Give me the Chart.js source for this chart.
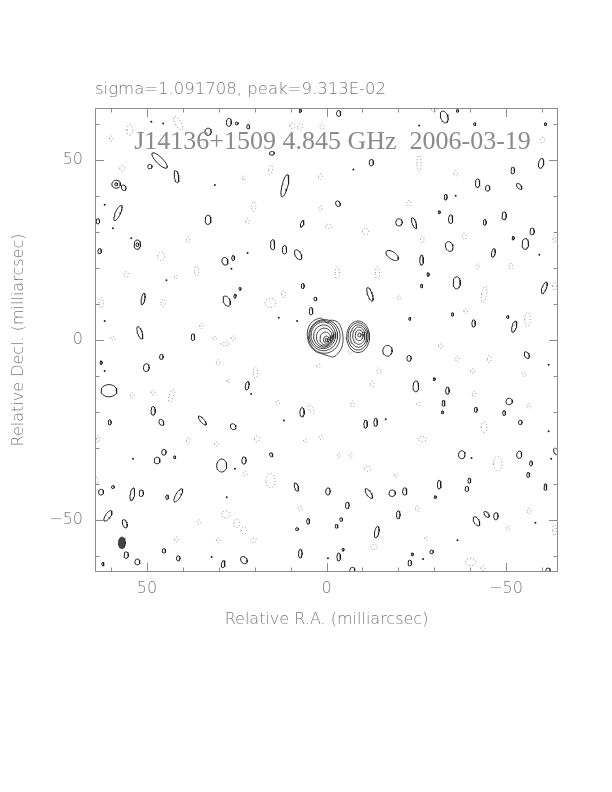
<!DOCTYPE html>
<html><head><meta charset="utf-8">
<script src="https://cdn.jsdelivr.net/npm/chart.js@4/dist/chart.umd.min.js"></script>
<style>html,body{margin:0;padding:0;background:#fff}#wrap{width:612px;height:792px}</style>
</head><body><div id="wrap"><canvas id="c" width="612" height="792"></canvas></div>
<script>
// ---- text ----
const headerText = 'sigma=1.091708, peak=9.313E-02';
const mapTitle = 'J14136+1509 4.845 GHz  2006-03-19';
const xAxisTitle = 'Relative R.A. (milliarcsec)';
const yAxisTitle = 'Relative Decl. (milliarcsec)';
// ---- axes ----
const raRange = [-64.5, 64.5];
const decRange = [-64.5, 64.5];
const raTickValues = [50, 0, -50];
const raTickLabels = ['50', '0', '\u221250'];
const decTickValues = [50, 0, -50];
const decTickLabels = ['50', '0', '\u221250'];
const minorTickValues = [-60, -50, -40, -30, -20, -10, 0, 10, 20, 30, 40, 50, 60];

// ---- source contours [ra, dec, halfWidth, halfHeight, rot] (mas) ----
const leftOuterContour = [[3.2,5.6],[4.4,4.6],[5.3,2.5],[5.2,0.2],[4.5,-1.7],[3.0,-3.2],[1.1,-3.9],[-0.5,-4.4],[-2.0,-4.7],[-3.3,-3.6],[-4.2,-2.2],[-4.6,-0.2],[-4.5,1.7],[-4.0,3.6],[-3.1,5.0],[-1.1,5.5],[-0.3,4.7],[0.8,5.6],[1.7,6.1],[3.2,5.6]];
const leftContours = [
 [0.6,1.0,4.4,4.7,0],[0.8,1.2,3.9,4.2,0],[0.9,1.3,3.4,3.7,0],[0.8,1.1,2.8,3.1,0],
 [0.6,0.8,2.2,2.5,0],[0.3,0.4,1.5,1.8,0],[0.05,0.1,0.8,1.0,0],[0,0,0.35,0.45,0]];
const rightContours = [
 [-8.8,0.9,3.2,4.4,0],[-8.8,1.0,2.8,3.8,0],[-8.9,1.1,2.3,3.1,0],[-9.0,1.2,1.7,2.4,0],
 [-9.1,1.3,1.1,1.5,0],[-9.2,1.4,0.45,0.55,0]];
// ---- restoring beam ----
const beam = [57.0, -56.4, 0.95, 1.6, 0];

// ---- positive noise contours [ra, dec, halfWidth, halfHeight, rot] ----
const positiveBlobs = [
 [27.2,60.5,0.7,1.1,0],[25.0,60.2,0.4,0.4,0],[21.8,59.3,0.4,0.6,0],[33.0,57.9,0.9,1.0,0],
 [46.5,49.9,0.9,2.9,-45],[49.2,48.2,0.6,0.6,0],[41.8,45.4,0.6,1.7,-10],
 [58.6,43.3,1.2,1.1,0],[58.6,43.3,0.4,0.4,0],[56.5,42.3,0.6,0.8,-30],
 [58.1,35.3,0.7,2.3,25],[63.7,33.0,0.5,0.7,0],[33.0,33.4,0.8,1.3,0],[63.2,24.7,0.5,0.7,0],
 [52.7,26.5,0.9,1.3,0],[52.7,26.5,0.4,0.5,0],[28.3,21.9,0.8,1.1,-20],[26.0,22.8,0.4,0.7,0],
 [51.1,11.4,0.5,1.6,10],[27.8,10.8,0.9,1.5,-25],[25.5,12.2,0.3,0.6,10],[24.1,14.2,0.3,0.4,0],
 [52.0,2.0,0.6,1.8,-20],[37.2,0.8,0.5,0.9,0],
 [7.3,63.7,0.3,0.5,0],[-3.4,63.0,0.6,0.8,0],[15.2,51.9,0.7,0.5,0],[-12.5,49.3,0.6,0.9,0],
 [11.6,42.9,0.8,3.2,14],[-3.2,37.9,0.6,0.8,-30],[6.8,32.3,0.4,1.0,20],[-20.2,32.7,0.9,1.0,0],
 [15.0,26.5,0.6,1.4,0],[11.7,25.1,0.6,1.2,0],[7.9,23.7,0.8,1.5,-30],[-18.3,23.5,2.0,1.0,35],
 [6.6,15.0,0.4,0.7,0],[-12.1,12.7,0.6,2.0,-20],[3.1,11.4,0.4,0.5,0],[4.3,8.0,0.5,1.0,0],
 [-32.8,62.0,1.0,1.7,-20],[-36.5,63.7,0.3,0.4,0],[-41.3,60.0,0.3,0.4,0],[-61.0,60.0,0.3,0.4,0],
 [-59.8,49.1,0.7,1.4,10],[-51.9,47.1,0.5,0.9,0],[-42.1,43.6,0.6,1.2,0],[-44.9,42.2,0.6,0.8,0],
 [-53.7,42.7,0.5,1.0,-40],[-33.2,39.7,0.4,0.8,0],[-31.4,35.5,0.3,0.4,0],[-34.6,33.6,0.6,1.2,0],
 [-49.5,34.5,0.6,1.1,0],[-44.1,32.7,0.4,0.8,0],[-24.4,32.5,0.5,1.6,-20],[-57.3,30.2,0.6,0.9,0],
 [-52.0,28.3,0.3,0.5,0],[-55.4,26.7,0.9,1.5,0],[-34.2,26.0,1.0,1.4,-20],[-46.5,24.2,0.5,1.2,10],
 [-26.5,22.2,0.5,1.4,0],[-28.3,18.2,0.3,0.5,0],[-36.3,15.9,1.0,1.7,0],[-26.5,15.0,0.3,0.5,0],
 [-60.7,14.5,0.6,1.7,20],[-35.1,7.1,0.3,0.5,0],[-41.0,4.6,0.5,1.0,0],[-52.3,3.7,0.6,1.6,15],
 [-50.5,6.4,0.3,0.4,0],[-23.2,5.9,0.3,0.4,0],
 [46.0,-4.7,0.5,0.7,0],[62.8,-6.3,0.3,0.5,0],[50.2,-7.7,0.8,1.1,0],[60.6,-14.1,2.2,1.7,0],
 [22.1,-12.7,0.5,1.2,10],[48.3,-19.7,0.6,1.2,0],[46.0,-22.9,0.6,0.9,-30],[34.6,-22.4,0.5,1.6,-40],
 [60.4,-22.9,0.4,0.7,0],[26.0,-24.1,0.7,0.9,-40],[45.3,-31.2,0.6,0.8,0],[47.2,-33.5,0.8,0.9,0],
 [42.3,-32.6,0.3,0.4,0],[29.2,-34.9,1.4,1.8,0],[23.0,-33.5,0.6,1.0,0],[62.8,-42.3,0.7,0.8,0],
 [59.5,-40.9,0.4,0.4,0],[54.1,-42.9,0.6,1.8,10],[51.6,-42.6,0.6,0.9,0],[44.4,-43.7,0.4,0.6,0],
 [41.3,-43.2,0.7,2.1,31],[60.9,-48.9,0.7,1.7,35],[56.2,-51.1,0.6,1.2,-20],[55.8,-59.8,0.6,0.9,0],
 [52.7,-61.7,0.7,0.8,0],[45.3,-58.6,0.5,0.6,0],[41.3,-60.7,0.5,0.7,0],[62.3,-62.3,0.3,0.5,0],
 [28.8,-62.3,0.5,1.0,10],[23.0,-61.2,0.8,1.1,-40],
 [-17.0,-3.0,1.3,1.5,0],[6.8,-20.1,0.6,1.3,0],[-10.9,-23.4,0.5,1.1,0],[-13.7,-22.9,0.5,1.1,0],
 [15.4,-31.9,0.4,0.6,-30],[8.4,-40.9,0.5,1.2,-20],[-0.4,-42.1,0.6,1.0,0],[-11.8,-42.7,0.6,1.6,-35],
 [-18.3,-42.6,0.9,0.9,0],[-21.8,-42.1,0.6,1.0,0],[-5.8,-46.0,0.5,0.9,0],[5.1,-50.4,0.4,0.8,0],
 [8.2,-52.6,0.4,0.4,0],[-4.1,-49.9,0.4,0.5,0],[-2.8,-51.8,0.4,0.5,0],[-14.0,-53.4,0.6,1.6,10],
 [-20.0,-48.6,0.5,1.1,0],[7.3,-59.4,0.5,1.2,0],[-3.4,-60.3,0.5,1.1,0],[-4.6,-58.3,0.3,0.4,0],
 [-7.2,-64.0,0.7,0.8,0],
 [-23.0,-5.1,0.6,0.8,0],[-55.8,-4.2,0.6,1.0,-30],[-24.9,-12.9,0.8,1.5,0],[-30.0,-10.9,0.3,0.4,0],
 [-33.7,-14.1,0.5,1.0,0],[-32.6,-17.6,0.4,0.8,0],[-32.3,-20.1,0.3,0.4,0],[-41.6,-19.4,0.4,0.7,0],
 [-50.9,-17.1,0.9,0.9,0],[-49.5,-20.3,0.4,0.7,0],[-54.0,-22.9,0.5,0.6,0],[-37.7,-31.9,0.9,1.1,0],
 [-53.7,-31.9,0.7,1.0,0],[-57.0,-34.3,0.4,0.7,0],[-56.2,-37.5,0.4,0.7,0],[-64.0,-31.0,0.6,1.0,-30],
 [-31.4,-40.2,0.5,1.2,0],[-39.8,-39.1,0.4,0.7,0],[-39.1,-41.4,0.5,0.7,0],[-30.3,-43.7,0.3,0.4,0],
 [-61.0,-40.9,0.4,0.9,0],[-41.8,-50.4,0.7,1.4,-30],[-44.6,-48.5,0.5,1.0,-40],[-47.2,-49.0,0.6,1.0,0],
 [-29.3,-58.9,0.5,0.5,0],[-23.9,-59.6,0.3,0.4,0],[-23.2,-62.0,0.5,0.8,0],[-61.7,-64.0,0.6,0.6,0]
];
// ---- negative (dotted) noise contours ----
const negativeBlobs = [
 [54.8,58.4,0.8,1.5,0],[60,56,0.5,0.7,0],[41.3,60.2,0.8,2.2,-30],[56.9,47.7,0.7,0.8,0],
 [38.5,27.9,0.5,0.8,0],[46,23.3,1,1.2,0],[36.2,19.1,0.6,1.5,0],[55.8,18.2,0.6,0.8,0],
 [42,17.5,0.4,0.5,0],[62.8,10.3,0.6,1.5,0],[45.5,10.3,0.6,1,0],[34.8,3.9,0.5,0.7,0],
 [59.5,0.5,0.6,0.5,0],[31.2,0.5,0.6,0.5,0],[26,0.5,0.6,0.6,0],[23,45,0.4,0.6,0],[22,33,0.5,0.8,0],
 [9.5,59.6,0.7,0.8,0],[7.3,59.3,0.7,0.9,0],[1.2,59.3,0.6,0.8,0],[15.6,47.3,0.5,1.3,10],
 [1.7,45.4,0.5,0.8,0],[20.3,37.1,0.6,1.3,0],[1.7,36.6,0.4,0.7,0],[-0.6,31.6,1.0,0.6,0],
 [-10.9,30.2,0.9,0.9,0],[-3,18.6,0.6,1.7,0],[-14.2,18.6,0.6,1.7,0],[15.6,10.3,1.5,1.3,0],
 [11.9,12.7,0.6,0.9,0],[-20.2,11.7,0.4,0.6,0],
 [-25.8,49.1,0.6,2.2,0],[-36,46.3,0.5,0.8,0],[-60.2,55.6,0.6,0.8,0],[-23,38,0.6,0.8,0],
 [-26.7,27.9,0.5,0.9,0],[-38.4,28.8,0.5,0.9,0],[-51.4,20.5,0.6,0.8,0],[-42.1,20.5,0.4,0.7,0],
 [-43.9,12.7,0.7,2.3,10],[-56,5.7,0.8,2,0],[-38.8,8,0.5,0.7,0],[-63.5,15,0.5,1.2,0],
 [-63.5,28,0.4,1,0],[-30,64,0.8,0.5,0],
 [28.2,-1.1,1.2,0.5,0],[30.2,-6.3,0.5,0.8,0],[54.1,-15.5,0.5,0.8,0],[48.3,-14.6,0.6,0.6,0],
 [43.2,-15.5,0.6,1.8,20],[27.4,-11.4,0.3,0.6,0],[63.7,-27.5,0.4,1,0],[38.5,-28,0.5,1,0],
 [30.6,-28.9,0.6,0.6,0],[22.7,-37.2,0.5,0.6,0],[28,-48.5,1.2,1.0,0],[25,-51,0.8,1.2,0],
 [23,-53,0.8,1.0,0],[35.5,-50.6,0.5,0.6,0],[41.8,-55.5,0.5,0.7,0],[30.2,-55.7,0.5,0.7,0],
 [64,-39,0.4,1,0],
 [19.8,-9.1,0.6,1.5,0],[2.2,-7.2,0.5,0.5,0],[-14.6,-8.6,0.6,0.8,0],[-12.8,-12.3,0.5,0.8,0],
 [13.6,-17.4,0.5,0.6,0],[4.3,-19.2,0.6,1.3,-30],[-7.2,-17.8,0.4,0.9,0],[19.4,-27.5,0.7,0.8,0],
 [5.9,-28,0.5,0.4,0],[1.5,-27.1,0.5,0.6,0],[-3.4,-32.1,0.4,0.7,0],[-6.7,-32.1,0.4,0.7,0],
 [-11.4,-35.8,0.9,0.7,0],[15.6,-39.1,1.3,2.0,0],[7.3,-46.9,0.5,0.6,0],[20.3,-55.7,0.8,0.6,0],
 [-13.2,-57.5,0.9,0.7,0],[-19.3,-37.7,0.4,0.5,0],[-6.6,-3.2,0.5,0.6,0],
 [-31.8,-1.7,0.6,0.6,0],[-36.5,-5.3,0.5,0.8,0],[-45.3,-5.3,0.5,1,0],[-40.7,-8.6,0.6,0.6,0],
 [-55.1,-9.5,0.5,0.6,0],[-41.1,-15,0.5,0.8,0],[-25.6,-17.8,0.5,0.5,0],[-56.3,-18.3,0.5,0.6,0],
 [-43.9,-24.3,0.8,1.5,0],[-26.7,-27.5,1.2,0.7,0],[-47.7,-34.4,1.2,2.0,0],[-25.3,-46.9,0.5,0.8,0],
 [-56.5,-47.6,0.5,0.8,0],[-50.5,-52.4,0.5,0.6,0],[-63.5,-52.9,0.5,1.5,0],[-27.7,-55.2,0.4,0.5,0],
 [-40.2,-61.7,1.5,1.0,0],[-43.6,-63.5,0.6,0.6,0]
];
// ---- single-pixel positive specks [ra, dec] ----
const specks = [
 [48.8,60.7],[45.5,60.2],[31.1,43.1],[61.8,37.6],[59.5,31.1],[61.8,5.3],[8.2,5.3],[54.4,28.3],
 [44.6,16.6],[22,24.2],[26.5,19.8],[13.3,6.2],[-7.5,47.4],[-25.8,59.6],[-36,40.1],[-59.3,23.7],
 [61.8,-8.6],[53.9,-33],[25.5,-35.8],[32,-60.3],[27.8,-43.7],[11.9,-22.4],[-16.5,-22],
 [-0.4,-60.7],[21,-15],[-61.9,-6.9],[-61.9,-25.4],[-40.4,-32.8],[-58.2,-50.8],[-36.5,-55.7],
 [-26.9,-60.9],[-62.6,-33]
];

function outline(b) {
  const [cx, cy, w, h, rot] = b, r = rot * Math.PI / 180, pts = [];
  for (let i = 0; i <= 28; i++) {
    const t = i / 28 * 2 * Math.PI;
    pts.push({x: cx + w*Math.cos(t)*Math.cos(r) - h*Math.sin(t)*Math.sin(r),
              y: cy + w*Math.cos(t)*Math.sin(r) + h*Math.sin(t)*Math.cos(r)});
  }
  return pts;
}
const datasets = [];
const solid = {showLine:true, pointRadius:0, borderColor:'#1e1e1e', borderWidth:1, fill:false, tension:0};
positiveBlobs.forEach(b => datasets.push(Object.assign({data: outline(b)}, solid)));
negativeBlobs.forEach(b => datasets.push({data: outline(b), showLine:true, pointRadius:0,
  borderColor:'#8a8a8a', borderWidth:1, borderDash:[1,2.2], fill:false}));
datasets.push({data: leftOuterContour.map(p => ({x:p[0], y:p[1]})), showLine:true, pointRadius:0,
  borderColor:'#333', borderWidth:0.9, tension:0.35, fill:false});
leftContours.concat(rightContours).forEach(b => datasets.push({data: outline(b), showLine:true,
  pointRadius:0, borderColor:'#333', borderWidth:0.9, fill:false}));
datasets.push({data: outline(beam), showLine:true, pointRadius:0, borderColor:'#333', borderWidth:1,
  backgroundColor:'#444', fill:'shape'});
datasets.push({data: specks.map(p => ({x:p[0], y:p[1]})), showLine:false, pointRadius:1,
  pointBorderWidth:0, pointBackgroundColor:'#222'});

const frameAndText = {
  id: 'frameAndText',
  afterDatasetsDraw(chart) {
    const {ctx, chartArea: a, scales: {x, y}} = chart;
    ctx.save();
    ctx.strokeStyle = '#8c8c8c'; ctx.lineWidth = 1;
    ctx.strokeRect(Math.round(a.left) + 0.5, Math.round(a.top) + 0.5,
                   Math.round(a.right - a.left) - 1, Math.round(a.bottom - a.top) - 1);
    ctx.beginPath();
    minorTickValues.forEach(v => {
      const len = raTickValues.includes(v) ? 9 : 4.5;
      const px = Math.round(x.getPixelForValue(v)) + 0.5;
      ctx.moveTo(px, a.bottom); ctx.lineTo(px, a.bottom - len);
      ctx.moveTo(px, a.top); ctx.lineTo(px, a.top + len);
      const leny = decTickValues.includes(v) ? 9 : 4.5;
      const py = Math.round(y.getPixelForValue(v)) + 0.5;
      ctx.moveTo(a.left, py); ctx.lineTo(a.left + leny, py);
      ctx.moveTo(a.right, py); ctx.lineTo(a.right - leny, py);
    });
    ctx.stroke();
    ctx.fillStyle = '#7a7a7a';
    ctx.font = '200 16.5px "DejaVu Sans"';
    ctx.textAlign = 'left'; ctx.textBaseline = 'middle';
    ctx.fillText(headerText, a.left, a.top - 18);
    ctx.font = '26px "Liberation Serif"';
    ctx.fillStyle = '#8a8a8a';
    ctx.textAlign = 'center';
    ctx.fillText(mapTitle, (a.left + a.right) / 2 + 6, a.top + 34);
    ctx.restore();
  }
};

const tickFont = {family: 'DejaVu Sans', size: 16, weight: 200};
new Chart(document.getElementById('c'), {
  type: 'scatter',
  data: {datasets},
  options: {
    responsive: false, animation: false, devicePixelRatio: 1,
    layout: {padding: {top: 108, right: 54, bottom: 150, left: 0}},
    plugins: {legend: {display: false}, tooltip: {enabled: false}},
    scales: {
      x: {
        type: 'linear', reverse: true, min: raRange[0], max: raRange[1],
        grid: {display: false, drawTicks: false}, border: {display: false},
        afterBuildTicks: s => { s.ticks = raTickValues.map(v => ({value: v})); },
        afterFit: s => { s.height = 70; },
        ticks: {color: '#7a7a7a', font: tickFont, padding: 7, maxRotation: 0,
          callback: v => raTickLabels[raTickValues.indexOf(v)]},
        title: {display: true, text: xAxisTitle, color: '#7a7a7a', font: tickFont, padding: {top: 0, bottom: 13}}
      },
      y: {
        type: 'linear', min: decRange[0], max: decRange[1],
        grid: {display: false, drawTicks: false}, border: {display: false},
        afterBuildTicks: s => { s.ticks = decTickValues.map(v => ({value: v})); },
        afterFit: s => { s.width = 95; },
        ticks: {color: '#7a7a7a', font: tickFont, padding: 12,
          callback: v => decTickLabels[decTickValues.indexOf(v)]},
        title: {display: true, text: yAxisTitle, color: '#7a7a7a', font: tickFont, padding: {top: 9, bottom: 0}}
      }
    }
  },
  plugins: [frameAndText]
});
</script></body></html>
